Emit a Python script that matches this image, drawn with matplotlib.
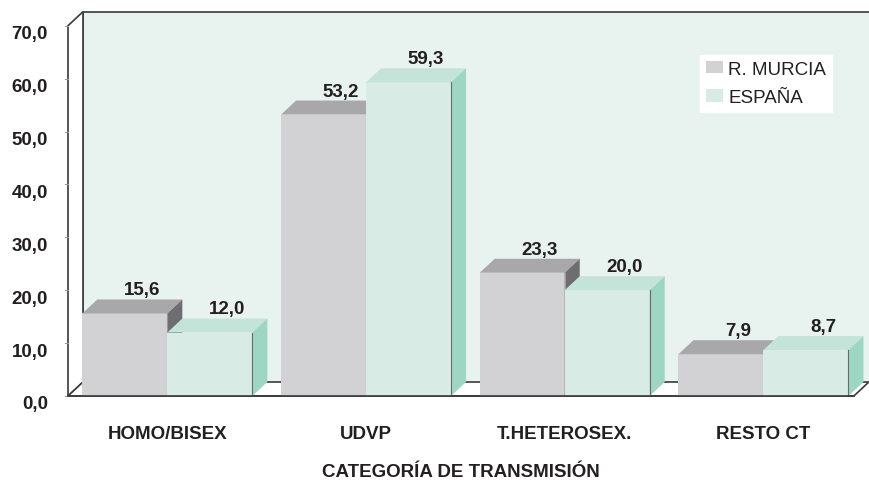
import matplotlib
matplotlib.use("Agg")
import matplotlib.pyplot as plt
from matplotlib.patches import Polygon, Patch

categories = ["HOMO/BISEX", "UDVP", "T.HETEROSEX.", "RESTO CT"]
series_names = ["R. MURCIA", "ESPAÑA"]
murcia = [15.6, 53.2, 23.3, 7.9]
espana = [12.0, 59.3, 20.0, 8.7]
yticks = [0, 10, 20, 30, 40, 50, 60, 70]

plt.rcParams['font.family'] = ['Liberation Sans', 'DejaVu Sans']
FS = 13.5
TXT = '#231f20'

# colours: front, top, side
colors = [('#d2d2d4', '#a8a8aa', '#6e6e70'),
          ('#d8ece5', '#c4e4da', '#9ed6c4')]

W, H = 869, 481
fig = plt.figure(figsize=(W / 100, H / 100), dpi=100)

# axes in pixel layout: floor front at y=397, top of back wall at y=13
unit = 198.7                 # px per category
x0_px = 167.35               # px of category 0 centre
left_px = 68
ppu = 5.29                   # px per value unit
floor_px = 397
ax = fig.add_axes([left_px / W, (H - floor_px) / H, (W - left_px) / W, (floor_px - 5) / H])
xmin = (left_px - x0_px) / unit
ax.set_xlim(xmin, xmin + (W - left_px) / unit)
ax.set_ylim(0, (floor_px - 5) / ppu)
ax.axis('off')

dx = 15 / unit
dy = 14 / ppu
ymax = 70
xl, xr = -0.5, 3.455
edge = '#3a3a3a'

def poly(pts, fc, ec='none', lw=0.0, z=1):
    p = Polygon(pts, closed=True, facecolor=fc, edgecolor=ec, linewidth=lw, zorder=z, clip_on=False)
    ax.add_patch(p)

# back wall
poly([(xl + dx, dy), (xr + dx + 1, dy), (xr + dx + 1, ymax + dy), (xl + dx, ymax + dy)], '#e8f3ef', z=1)
ax.plot([xl + dx, xl + dx, xr + dx + 1], [dy, ymax + dy, ymax + dy], color=edge, lw=1.2, zorder=2, clip_on=False)
# left wall
poly([(xl, 0), (xl + dx, dy), (xl + dx, ymax + dy), (xl, ymax)], 'white', edge, 1.2, z=2)
# floor
poly([(xl, 0), (xr, 0), (xr + dx, dy), (xl + dx, dy)], 'white', edge, 1.2, z=2)
# small ticks on the left wall
for t in yticks:
    ax.plot([xl - 3 / unit, xl], [t, t], color='#999999', lw=0.8, zorder=3, clip_on=False)
    ax.text(xl - 20 / unit, t - 8 / ppu, f"{t:.1f}".replace('.', ','), ha='right', va='center',
            fontsize=FS, fontweight='bold', color=TXT)

bw = 85 / unit
for i in range(len(categories)):
    for s, vals in enumerate([murcia, espana]):
        v = vals[i]
        front, top, side = colors[s]
        xa = i - bw + s * bw
        xb = xa + bw
        poly([(xa, 0), (xb, 0), (xb, v), (xa, v)], front, z=4)
        poly([(xa, v), (xb, v), (xb + dx, v + dy), (xa + dx, v + dy)], top, z=4)
        poly([(xb, 0), (xb + dx, dy), (xb + dx, v + dy), (xb, v)], side, z=4)
        ec = '#6a6a6a' if s == 1 else '#9a9a9c'
        ax.plot([xb, xb], [0, v], color=ec, lw=0.8, zorder=4, clip_on=False)
        ax.text(xa + bw / 2 + 17 / unit, v + dy + 1.8, f"{v:.1f}".replace('.', ','),
                ha='center', va='center', fontsize=FS, fontweight='bold', color=TXT, zorder=5)
    ax.text(i, -38 / ppu, categories[i], ha='center', va='center', fontsize=FS,
            fontweight='bold', color=TXT)

# front floor line over the bars
ax.plot([xl, xr], [0, 0], color=edge, lw=1.2, zorder=6, clip_on=False)

ax.text((xl + xr) / 2, -76 / ppu, "CATEGORÍA DE TRANSMISIÓN", ha='center', va='center',
        fontsize=FS, fontweight='bold', color=TXT)

handles = [Patch(facecolor=colors[0][0], edgecolor='none'),
           Patch(facecolor=colors[1][0], edgecolor='none')]
leg = fig.legend(handles, series_names, loc='upper left',
                 bbox_to_anchor=(700 / W, 1 - 56 / H), fontsize=FS,
                 frameon=True, fancybox=False, framealpha=1, edgecolor='white',
                 handlelength=0.95, handleheight=0.65, handletextpad=0.25,
                 borderpad=0.3, borderaxespad=0, labelspacing=0.6)
for t in leg.get_texts():
    t.set_color(TXT)
leg.set_zorder(10)

fig.savefig("out.png", dpi=100)
